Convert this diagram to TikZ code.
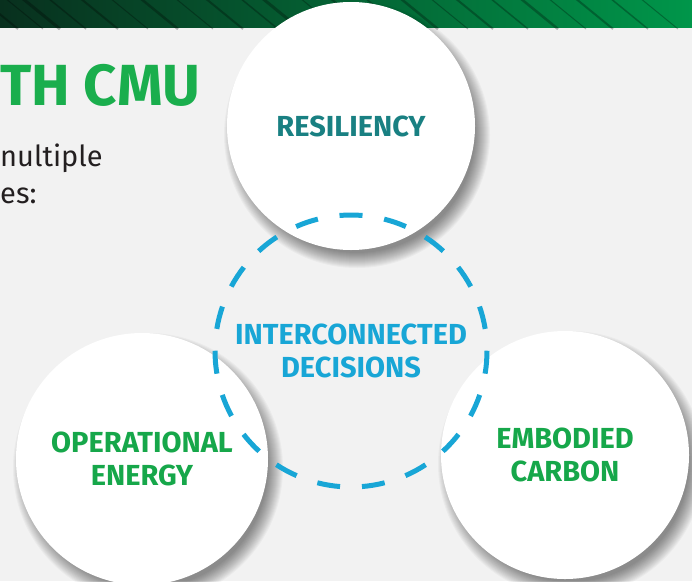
\documentclass[tikz,border=0pt]{standalone}
\usepackage{fontspec}
\setmainfont{Fira Sans}
\usetikzlibrary{calc}
\definecolor{bg}{RGB}{242,242,242}
\definecolor{titlegreen}{RGB}{26,174,77}
\definecolor{labelgreen}{RGB}{22,167,74}
\definecolor{resteal}{RGB}{25,128,130}
\definecolor{dashblue}{RGB}{24,166,214}
\definecolor{bodytext}{RGB}{35,31,32}
\definecolor{bannerdark}{RGB}{8,48,30}
\definecolor{bannermid}{RGB}{4,82,46}
\definecolor{bannerlight}{RGB}{0,150,74}
\tikzset{
  bubble/.style={circle,fill=white,minimum size=#1,inner sep=0pt,align=center,
    font=\bfseries\fontsize{29}{33}\selectfont},
  dashseg/.style={draw=dashblue,line width=5pt},
  stripe/.style={line width=#1,black,opacity=0.28},
}
\begin{document}
\begin{tikzpicture}[x=1pt,y=-1pt]
\useasboundingbox (0,0) rectangle (692,581);
\clip (0,0) rectangle (692,581);
\fill[bg] (0,0) rectangle (692,581);
% banner
\shade[left color=bannerdark, middle color=bannermid, right color=bannerlight] (0,0) rectangle (692,27);
\foreach \x/\w in {-20/2pt,5/1pt,22/3pt,48/1.5pt,80/2pt,110/1pt,140/2.5pt,175/1pt,205/2pt,240/1.5pt,262/3pt,300/1pt,330/2pt,365/1.5pt,400/2.5pt,430/1pt,455/2pt,490/1.5pt,520/2.5pt,548/1pt,575/2pt,610/1.5pt,640/1pt}{
  \draw[stripe=\w] (\x,-2) -- ++(38,31);
}
% title and body text
\node[anchor=base west,inner sep=0pt,text=titlegreen,font=\bfseries\fontsize{58}{58}\selectfont] (title) at (0,105) {TH CMU};
\node[anchor=base west,inner sep=0pt,text=bodytext,font=\fontsize{29}{37}\selectfont] (body1) at (0,166) {nultiple};
\node[anchor=base west,inner sep=0pt,text=bodytext,font=\fontsize{29}{37}\selectfont] (body2) at (0,203) {es:};
% centres
\coordinate (cR) at (351,126);
\coordinate (cO) at (142,459);
\coordinate (cE) at (565,455);
\coordinate (cI) at (351,351);
% soft shadows
\foreach \c/\r in {cR/124,cO/126,cE/124}{
  \foreach \k in {0,...,15}{
    \fill[black,opacity=0.03] ($(\c)+(6,9)$) circle[radius=\r-6+\k];
  }
}
% bubbles
\node[bubble=248pt,text=resteal] (res) at (cR) {RESILIENCY};
\node[bubble=252pt,text=labelgreen] (op) at (cO) {OPERATIONAL\\ENERGY};
\node[bubble=248pt,text=labelgreen] (emb) at (cE) {EMBODIED\\CARBON};
% dashed ring
\foreach \i in {0,...,18}{
  \pgfmathsetmacro\a{-90+\i*360/19}
  \draw[dashseg] ($(cI)+({\a-4.85}:136)$) arc[start angle=\a-4.85,end angle=\a+4.85,radius=136];
}
\node[inner sep=0pt,align=center,text=dashblue,font=\bfseries\fontsize{29}{33}\selectfont] (ic) at (cI) {INTERCONNECTED\\DECISIONS};
\end{tikzpicture}
\end{document}
